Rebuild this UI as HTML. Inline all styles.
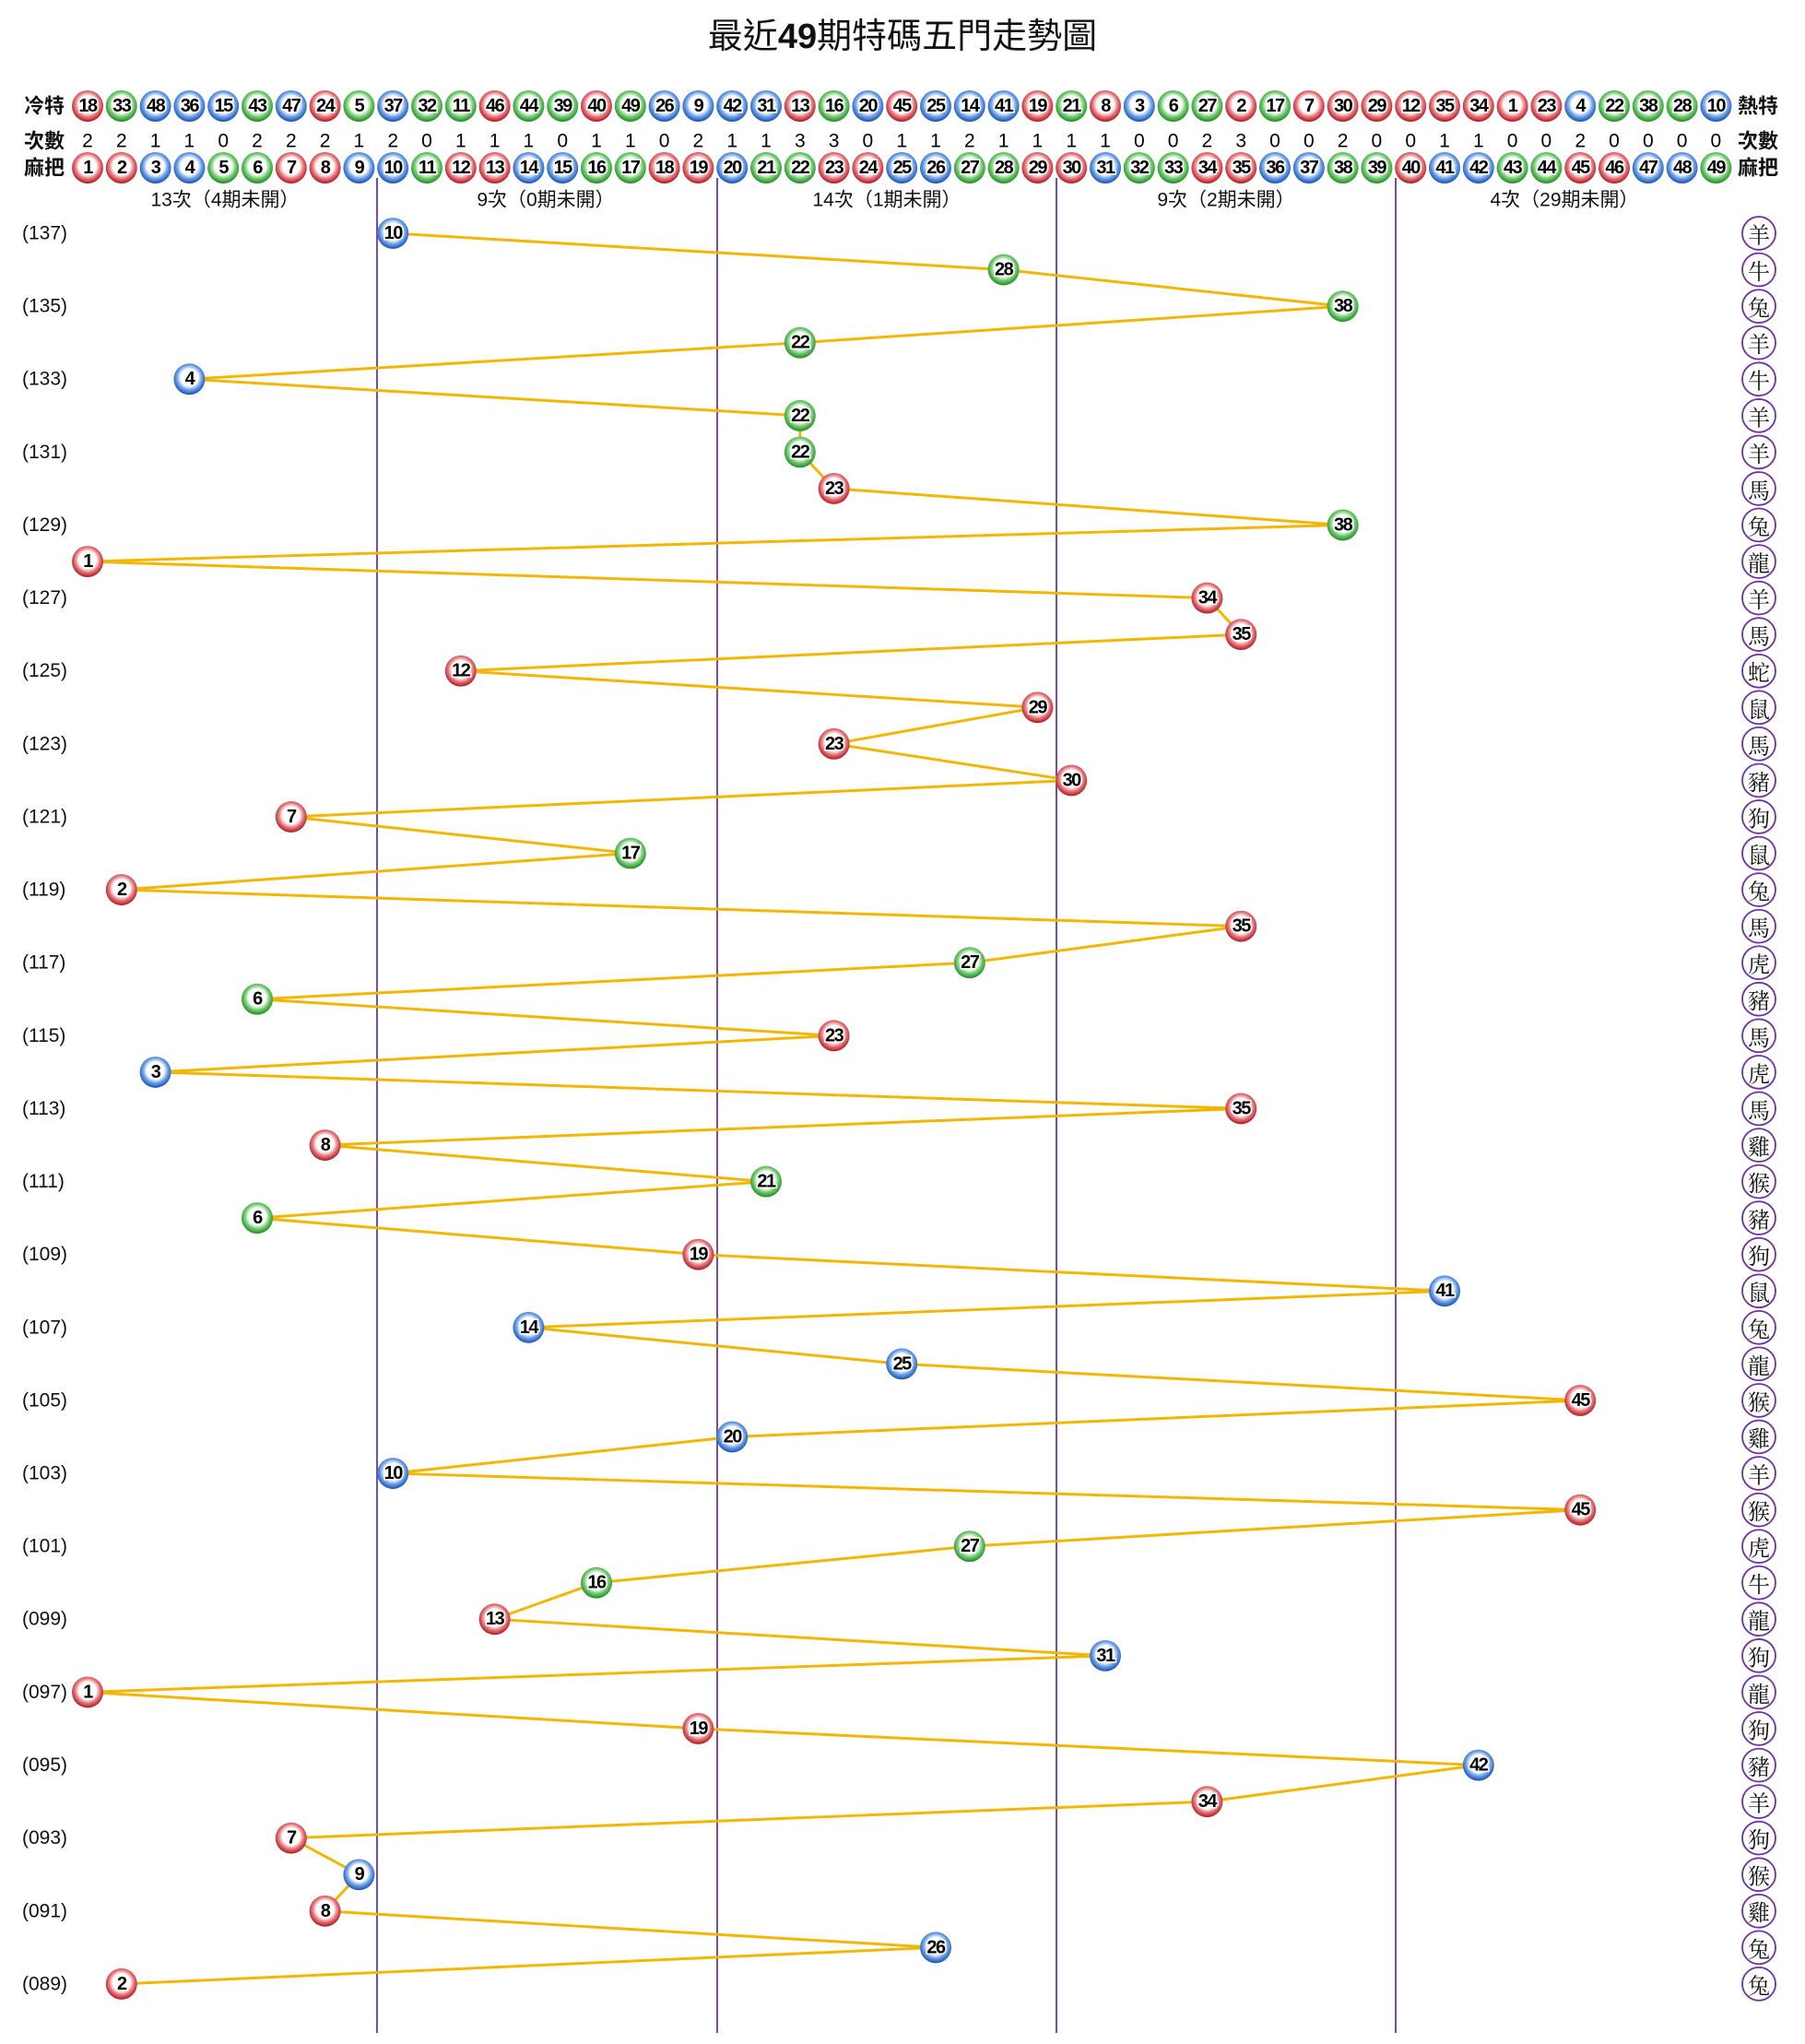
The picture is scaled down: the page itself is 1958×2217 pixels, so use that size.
<!DOCTYPE html>
<html><head><meta charset="utf-8"><style>
html,body{margin:0;padding:0;background:#fff;width:1958px;height:2217px;overflow:hidden}
svg{display:block}
.n{font-family:"Liberation Sans",sans-serif;font-weight:bold;font-size:20px;letter-spacing:-1.5px;text-anchor:middle;dominant-baseline:central;fill:#000;stroke:#fff;stroke-width:3px;paint-order:stroke}
.c{font-family:"Liberation Sans",sans-serif;font-size:21px;text-anchor:middle;dominant-baseline:central;fill:#000}
.l{font-family:"Liberation Sans","Noto Sans CJK TC",sans-serif;font-size:22px;font-weight:bold;dominant-baseline:central;fill:#111}
.s{font-family:"Liberation Sans","Noto Sans CJK TC",sans-serif;font-size:21px;text-anchor:middle;dominant-baseline:central;fill:#111}
.p{font-family:"Liberation Sans",sans-serif;font-size:21px;font-weight:500;dominant-baseline:central;fill:#111}
.z{font-family:"Noto Serif CJK SC","Noto Sans CJK TC",serif;font-size:24px;text-anchor:middle;dominant-baseline:central;fill:#111}
</style></head><body>
<svg width="1958" height="2217" viewBox="0 0 1958 2217" xmlns="http://www.w3.org/2000/svg">
<defs>
<radialGradient id="R" cx="50%" cy="45%" r="55%"><stop offset="0" stop-color="#fff"/><stop offset="0.5" stop-color="#fff"/><stop offset="0.72" stop-color="#e67a80"/><stop offset="1" stop-color="#b0151c"/></radialGradient>
<radialGradient id="B" cx="50%" cy="45%" r="55%"><stop offset="0" stop-color="#fff"/><stop offset="0.5" stop-color="#fff"/><stop offset="0.72" stop-color="#6fa2e8"/><stop offset="1" stop-color="#1550b0"/></radialGradient>
<radialGradient id="G" cx="50%" cy="45%" r="55%"><stop offset="0" stop-color="#fff"/><stop offset="0.5" stop-color="#fff"/><stop offset="0.72" stop-color="#74cc74"/><stop offset="1" stop-color="#1f8a1f"/></radialGradient>
<circle id="b" cx="0" cy="0" r="17"/>
</defs>
<text x="979" y="40" text-anchor="middle" dominant-baseline="central" font-family="Liberation Sans,Noto Sans CJK TC,sans-serif" font-size="38" fill="#111">最近<tspan font-weight="bold">49</tspan>期特碼五門走勢圖</text>

<text class="l" x="26" y="115">冷特</text><text class="l" x="1885" y="115">熱特</text>
<text class="l" x="26" y="153">次數</text><text class="l" x="1885" y="153">次數</text>
<text class="l" x="26" y="182">麻把</text><text class="l" x="1885" y="182">麻把</text>

<g>
<use href="#b" x="95" y="115" fill="url(#R)"/><use href="#b" x="131.8" y="115" fill="url(#G)"/><use href="#b" x="168.6" y="115" fill="url(#B)"/><use href="#b" x="205.4" y="115" fill="url(#B)"/><use href="#b" x="242.2" y="115" fill="url(#B)"/><use href="#b" x="279" y="115" fill="url(#G)"/><use href="#b" x="315.8" y="115" fill="url(#B)"/><use href="#b" x="352.6" y="115" fill="url(#R)"/><use href="#b" x="389.4" y="115" fill="url(#G)"/><use href="#b" x="426.2" y="115" fill="url(#B)"/>
<use href="#b" x="463" y="115" fill="url(#G)"/><use href="#b" x="499.8" y="115" fill="url(#G)"/><use href="#b" x="536.6" y="115" fill="url(#R)"/><use href="#b" x="573.4" y="115" fill="url(#G)"/><use href="#b" x="610.2" y="115" fill="url(#G)"/><use href="#b" x="647" y="115" fill="url(#R)"/><use href="#b" x="683.8" y="115" fill="url(#G)"/><use href="#b" x="720.6" y="115" fill="url(#B)"/><use href="#b" x="757.4" y="115" fill="url(#B)"/><use href="#b" x="794.2" y="115" fill="url(#B)"/>
<use href="#b" x="831" y="115" fill="url(#B)"/><use href="#b" x="867.8" y="115" fill="url(#R)"/><use href="#b" x="904.6" y="115" fill="url(#G)"/><use href="#b" x="941.4" y="115" fill="url(#B)"/><use href="#b" x="978.2" y="115" fill="url(#R)"/><use href="#b" x="1015" y="115" fill="url(#B)"/><use href="#b" x="1051.8" y="115" fill="url(#B)"/><use href="#b" x="1088.6" y="115" fill="url(#B)"/><use href="#b" x="1125.4" y="115" fill="url(#R)"/><use href="#b" x="1162.2" y="115" fill="url(#G)"/>
<use href="#b" x="1199" y="115" fill="url(#R)"/><use href="#b" x="1235.8" y="115" fill="url(#B)"/><use href="#b" x="1272.6" y="115" fill="url(#G)"/><use href="#b" x="1309.4" y="115" fill="url(#G)"/><use href="#b" x="1346.2" y="115" fill="url(#R)"/><use href="#b" x="1383" y="115" fill="url(#G)"/><use href="#b" x="1419.8" y="115" fill="url(#R)"/><use href="#b" x="1456.6" y="115" fill="url(#R)"/><use href="#b" x="1493.4" y="115" fill="url(#R)"/><use href="#b" x="1530.2" y="115" fill="url(#R)"/>
<use href="#b" x="1567" y="115" fill="url(#R)"/><use href="#b" x="1603.8" y="115" fill="url(#R)"/><use href="#b" x="1640.6" y="115" fill="url(#R)"/><use href="#b" x="1677.4" y="115" fill="url(#R)"/><use href="#b" x="1714.2" y="115" fill="url(#B)"/><use href="#b" x="1751" y="115" fill="url(#G)"/><use href="#b" x="1787.8" y="115" fill="url(#G)"/><use href="#b" x="1824.6" y="115" fill="url(#G)"/><use href="#b" x="1861.4" y="115" fill="url(#B)"/>
<text class="n" x="95" y="115">18</text><text class="n" x="131.8" y="115">33</text><text class="n" x="168.6" y="115">48</text><text class="n" x="205.4" y="115">36</text><text class="n" x="242.2" y="115">15</text><text class="n" x="279" y="115">43</text><text class="n" x="315.8" y="115">47</text><text class="n" x="352.6" y="115">24</text><text class="n" x="389.4" y="115">5</text><text class="n" x="426.2" y="115">37</text>
<text class="n" x="463" y="115">32</text><text class="n" x="499.8" y="115">11</text><text class="n" x="536.6" y="115">46</text><text class="n" x="573.4" y="115">44</text><text class="n" x="610.2" y="115">39</text><text class="n" x="647" y="115">40</text><text class="n" x="683.8" y="115">49</text><text class="n" x="720.6" y="115">26</text><text class="n" x="757.4" y="115">9</text><text class="n" x="794.2" y="115">42</text>
<text class="n" x="831" y="115">31</text><text class="n" x="867.8" y="115">13</text><text class="n" x="904.6" y="115">16</text><text class="n" x="941.4" y="115">20</text><text class="n" x="978.2" y="115">45</text><text class="n" x="1015" y="115">25</text><text class="n" x="1051.8" y="115">14</text><text class="n" x="1088.6" y="115">41</text><text class="n" x="1125.4" y="115">19</text><text class="n" x="1162.2" y="115">21</text>
<text class="n" x="1199" y="115">8</text><text class="n" x="1235.8" y="115">3</text><text class="n" x="1272.6" y="115">6</text><text class="n" x="1309.4" y="115">27</text><text class="n" x="1346.2" y="115">2</text><text class="n" x="1383" y="115">17</text><text class="n" x="1419.8" y="115">7</text><text class="n" x="1456.6" y="115">30</text><text class="n" x="1493.4" y="115">29</text><text class="n" x="1530.2" y="115">12</text>
<text class="n" x="1567" y="115">35</text><text class="n" x="1603.8" y="115">34</text><text class="n" x="1640.6" y="115">1</text><text class="n" x="1677.4" y="115">23</text><text class="n" x="1714.2" y="115">4</text><text class="n" x="1751" y="115">22</text><text class="n" x="1787.8" y="115">38</text><text class="n" x="1824.6" y="115">28</text><text class="n" x="1861.4" y="115">10</text>
</g>

<g>
<text class="c" x="95" y="153">2</text><text class="c" x="131.8" y="153">2</text><text class="c" x="168.6" y="153">1</text><text class="c" x="205.4" y="153">1</text><text class="c" x="242.2" y="153">0</text><text class="c" x="279" y="153">2</text><text class="c" x="315.8" y="153">2</text><text class="c" x="352.6" y="153">2</text><text class="c" x="389.4" y="153">1</text><text class="c" x="426.2" y="153">2</text>
<text class="c" x="463" y="153">0</text><text class="c" x="499.8" y="153">1</text><text class="c" x="536.6" y="153">1</text><text class="c" x="573.4" y="153">1</text><text class="c" x="610.2" y="153">0</text><text class="c" x="647" y="153">1</text><text class="c" x="683.8" y="153">1</text><text class="c" x="720.6" y="153">0</text><text class="c" x="757.4" y="153">2</text><text class="c" x="794.2" y="153">1</text>
<text class="c" x="831" y="153">1</text><text class="c" x="867.8" y="153">3</text><text class="c" x="904.6" y="153">3</text><text class="c" x="941.4" y="153">0</text><text class="c" x="978.2" y="153">1</text><text class="c" x="1015" y="153">1</text><text class="c" x="1051.8" y="153">2</text><text class="c" x="1088.6" y="153">1</text><text class="c" x="1125.4" y="153">1</text><text class="c" x="1162.2" y="153">1</text>
<text class="c" x="1199" y="153">1</text><text class="c" x="1235.8" y="153">0</text><text class="c" x="1272.6" y="153">0</text><text class="c" x="1309.4" y="153">2</text><text class="c" x="1346.2" y="153">3</text><text class="c" x="1383" y="153">0</text><text class="c" x="1419.8" y="153">0</text><text class="c" x="1456.6" y="153">2</text><text class="c" x="1493.4" y="153">0</text><text class="c" x="1530.2" y="153">0</text>
<text class="c" x="1567" y="153">1</text><text class="c" x="1603.8" y="153">1</text><text class="c" x="1640.6" y="153">0</text><text class="c" x="1677.4" y="153">0</text><text class="c" x="1714.2" y="153">2</text><text class="c" x="1751" y="153">0</text><text class="c" x="1787.8" y="153">0</text><text class="c" x="1824.6" y="153">0</text><text class="c" x="1861.4" y="153">0</text>
</g>

<g>
<use href="#b" x="95" y="182" fill="url(#R)"/><use href="#b" x="131.8" y="182" fill="url(#R)"/><use href="#b" x="168.6" y="182" fill="url(#B)"/><use href="#b" x="205.4" y="182" fill="url(#B)"/><use href="#b" x="242.2" y="182" fill="url(#G)"/><use href="#b" x="279" y="182" fill="url(#G)"/><use href="#b" x="315.8" y="182" fill="url(#R)"/><use href="#b" x="352.6" y="182" fill="url(#R)"/><use href="#b" x="389.4" y="182" fill="url(#B)"/><use href="#b" x="426.2" y="182" fill="url(#B)"/>
<use href="#b" x="463" y="182" fill="url(#G)"/><use href="#b" x="499.8" y="182" fill="url(#R)"/><use href="#b" x="536.6" y="182" fill="url(#R)"/><use href="#b" x="573.4" y="182" fill="url(#B)"/><use href="#b" x="610.2" y="182" fill="url(#B)"/><use href="#b" x="647" y="182" fill="url(#G)"/><use href="#b" x="683.8" y="182" fill="url(#G)"/><use href="#b" x="720.6" y="182" fill="url(#R)"/><use href="#b" x="757.4" y="182" fill="url(#R)"/><use href="#b" x="794.2" y="182" fill="url(#B)"/>
<use href="#b" x="831" y="182" fill="url(#G)"/><use href="#b" x="867.8" y="182" fill="url(#G)"/><use href="#b" x="904.6" y="182" fill="url(#R)"/><use href="#b" x="941.4" y="182" fill="url(#R)"/><use href="#b" x="978.2" y="182" fill="url(#B)"/><use href="#b" x="1015" y="182" fill="url(#B)"/><use href="#b" x="1051.8" y="182" fill="url(#G)"/><use href="#b" x="1088.6" y="182" fill="url(#G)"/><use href="#b" x="1125.4" y="182" fill="url(#R)"/><use href="#b" x="1162.2" y="182" fill="url(#R)"/>
<use href="#b" x="1199" y="182" fill="url(#B)"/><use href="#b" x="1235.8" y="182" fill="url(#G)"/><use href="#b" x="1272.6" y="182" fill="url(#G)"/><use href="#b" x="1309.4" y="182" fill="url(#R)"/><use href="#b" x="1346.2" y="182" fill="url(#R)"/><use href="#b" x="1383" y="182" fill="url(#B)"/><use href="#b" x="1419.8" y="182" fill="url(#B)"/><use href="#b" x="1456.6" y="182" fill="url(#G)"/><use href="#b" x="1493.4" y="182" fill="url(#G)"/><use href="#b" x="1530.2" y="182" fill="url(#R)"/>
<use href="#b" x="1567" y="182" fill="url(#B)"/><use href="#b" x="1603.8" y="182" fill="url(#B)"/><use href="#b" x="1640.6" y="182" fill="url(#G)"/><use href="#b" x="1677.4" y="182" fill="url(#G)"/><use href="#b" x="1714.2" y="182" fill="url(#R)"/><use href="#b" x="1751" y="182" fill="url(#R)"/><use href="#b" x="1787.8" y="182" fill="url(#B)"/><use href="#b" x="1824.6" y="182" fill="url(#B)"/><use href="#b" x="1861.4" y="182" fill="url(#G)"/>
<text class="n" x="95" y="182">1</text><text class="n" x="131.8" y="182">2</text><text class="n" x="168.6" y="182">3</text><text class="n" x="205.4" y="182">4</text><text class="n" x="242.2" y="182">5</text><text class="n" x="279" y="182">6</text><text class="n" x="315.8" y="182">7</text><text class="n" x="352.6" y="182">8</text><text class="n" x="389.4" y="182">9</text><text class="n" x="426.2" y="182">10</text>
<text class="n" x="463" y="182">11</text><text class="n" x="499.8" y="182">12</text><text class="n" x="536.6" y="182">13</text><text class="n" x="573.4" y="182">14</text><text class="n" x="610.2" y="182">15</text><text class="n" x="647" y="182">16</text><text class="n" x="683.8" y="182">17</text><text class="n" x="720.6" y="182">18</text><text class="n" x="757.4" y="182">19</text><text class="n" x="794.2" y="182">20</text>
<text class="n" x="831" y="182">21</text><text class="n" x="867.8" y="182">22</text><text class="n" x="904.6" y="182">23</text><text class="n" x="941.4" y="182">24</text><text class="n" x="978.2" y="182">25</text><text class="n" x="1015" y="182">26</text><text class="n" x="1051.8" y="182">27</text><text class="n" x="1088.6" y="182">28</text><text class="n" x="1125.4" y="182">29</text><text class="n" x="1162.2" y="182">30</text>
<text class="n" x="1199" y="182">31</text><text class="n" x="1235.8" y="182">32</text><text class="n" x="1272.6" y="182">33</text><text class="n" x="1309.4" y="182">34</text><text class="n" x="1346.2" y="182">35</text><text class="n" x="1383" y="182">36</text><text class="n" x="1419.8" y="182">37</text><text class="n" x="1456.6" y="182">38</text><text class="n" x="1493.4" y="182">39</text><text class="n" x="1530.2" y="182">40</text>
<text class="n" x="1567" y="182">41</text><text class="n" x="1603.8" y="182">42</text><text class="n" x="1640.6" y="182">43</text><text class="n" x="1677.4" y="182">44</text><text class="n" x="1714.2" y="182">45</text><text class="n" x="1751" y="182">46</text><text class="n" x="1787.8" y="182">47</text><text class="n" x="1824.6" y="182">48</text><text class="n" x="1861.4" y="182">49</text>
</g>

<text class="s" x="244" y="217">13次（4期未開）</text>
<text class="s" x="592" y="217">9次（0期未開）</text>
<text class="s" x="962" y="217">14次（1期未開）</text>
<text class="s" x="1330" y="217">9次（2期未開）</text>
<text class="s" x="1697" y="217">4次（29期未開）</text>

<g stroke="#7a4aa8" stroke-width="2">
<line x1="409" y1="193" x2="409" y2="2205"/><line x1="778" y1="193" x2="778" y2="2205"/><line x1="1146" y1="193" x2="1146" y2="2205"/><line x1="1514" y1="193" x2="1514" y2="2205"/>
</g>

<g transform="matrix(1,0,0,0.99572,0,0.087)">
<g>
<text class="p" x="24" y="254">(137)</text><text class="p" x="24" y="333.5">(135)</text><text class="p" x="24" y="412.9">(133)</text><text class="p" x="24" y="492.4">(131)</text><text class="p" x="24" y="571.8">(129)</text><text class="p" x="24" y="651.3">(127)</text><text class="p" x="24" y="730.8">(125)</text><text class="p" x="24" y="810.2">(123)</text><text class="p" x="24" y="889.7">(121)</text><text class="p" x="24" y="969.1">(119)</text>
<text class="p" x="24" y="1048.6">(117)</text><text class="p" x="24" y="1128.1">(115)</text><text class="p" x="24" y="1207.5">(113)</text><text class="p" x="24" y="1287">(111)</text><text class="p" x="24" y="1366.4">(109)</text><text class="p" x="24" y="1445.9">(107)</text><text class="p" x="24" y="1525.4">(105)</text><text class="p" x="24" y="1604.8">(103)</text><text class="p" x="24" y="1684.3">(101)</text><text class="p" x="24" y="1763.7">(099)</text>
<text class="p" x="24" y="1843.2">(097)</text><text class="p" x="24" y="1922.7">(095)</text><text class="p" x="24" y="2002.1">(093)</text><text class="p" x="24" y="2081.6">(091)</text><text class="p" x="24" y="2161">(089)</text>
</g>

<polyline fill="none" stroke="#f2b705" stroke-width="3" stroke-linejoin="round" points="426.2,254 1088.6,293.7 1456.6,333.5 867.8,373.2 205.4,412.9 867.8,452.7 867.8,492.4 904.6,532.1 1456.6,571.8 95,611.6 1309.4,651.3 1346.2,691 499.8,730.8 1125.4,770.5 904.6,810.2 1162.2,850 315.8,889.7 683.8,929.4 131.8,969.1 1346.2,1008.9 1051.8,1048.6 279,1088.3 904.6,1128.1 168.6,1167.8 1346.2,1207.5 352.6,1247.3 831,1287 279,1326.7 757.4,1366.4 1567,1406.2 573.4,1445.9 978.2,1485.6 1714.2,1525.4 794.2,1565.1 426.2,1604.8 1714.2,1644.6 1051.8,1684.3 647,1724 536.6,1763.7 1199,1803.5 95,1843.2 757.4,1882.9 1603.8,1922.7 1309.4,1962.4 315.8,2002.1 389.4,2041.9 352.6,2081.6 1015,2121.3 131.8,2161"/>

<g>
<use href="#b" x="426.2" y="254" fill="url(#B)"/><text class="n" x="426.2" y="254">10</text>
<use href="#b" x="1088.6" y="293.7" fill="url(#G)"/><text class="n" x="1088.6" y="293.7">28</text>
<use href="#b" x="1456.6" y="333.5" fill="url(#G)"/><text class="n" x="1456.6" y="333.5">38</text>
<use href="#b" x="867.8" y="373.2" fill="url(#G)"/><text class="n" x="867.8" y="373.2">22</text>
<use href="#b" x="205.4" y="412.9" fill="url(#B)"/><text class="n" x="205.4" y="412.9">4</text>
<use href="#b" x="867.8" y="452.7" fill="url(#G)"/><text class="n" x="867.8" y="452.7">22</text>
<use href="#b" x="867.8" y="492.4" fill="url(#G)"/><text class="n" x="867.8" y="492.4">22</text>
<use href="#b" x="904.6" y="532.1" fill="url(#R)"/><text class="n" x="904.6" y="532.1">23</text>
<use href="#b" x="1456.6" y="571.8" fill="url(#G)"/><text class="n" x="1456.6" y="571.8">38</text>
<use href="#b" x="95" y="611.6" fill="url(#R)"/><text class="n" x="95" y="611.6">1</text>
<use href="#b" x="1309.4" y="651.3" fill="url(#R)"/><text class="n" x="1309.4" y="651.3">34</text>
<use href="#b" x="1346.2" y="691" fill="url(#R)"/><text class="n" x="1346.2" y="691">35</text>
<use href="#b" x="499.8" y="730.8" fill="url(#R)"/><text class="n" x="499.8" y="730.8">12</text>
<use href="#b" x="1125.4" y="770.5" fill="url(#R)"/><text class="n" x="1125.4" y="770.5">29</text>
<use href="#b" x="904.6" y="810.2" fill="url(#R)"/><text class="n" x="904.6" y="810.2">23</text>
<use href="#b" x="1162.2" y="850" fill="url(#R)"/><text class="n" x="1162.2" y="850">30</text>
<use href="#b" x="315.8" y="889.7" fill="url(#R)"/><text class="n" x="315.8" y="889.7">7</text>
<use href="#b" x="683.8" y="929.4" fill="url(#G)"/><text class="n" x="683.8" y="929.4">17</text>
<use href="#b" x="131.8" y="969.1" fill="url(#R)"/><text class="n" x="131.8" y="969.1">2</text>
<use href="#b" x="1346.2" y="1008.9" fill="url(#R)"/><text class="n" x="1346.2" y="1008.9">35</text>
<use href="#b" x="1051.8" y="1048.6" fill="url(#G)"/><text class="n" x="1051.8" y="1048.6">27</text>
<use href="#b" x="279" y="1088.3" fill="url(#G)"/><text class="n" x="279" y="1088.3">6</text>
<use href="#b" x="904.6" y="1128.1" fill="url(#R)"/><text class="n" x="904.6" y="1128.1">23</text>
<use href="#b" x="168.6" y="1167.8" fill="url(#B)"/><text class="n" x="168.6" y="1167.8">3</text>
<use href="#b" x="1346.2" y="1207.5" fill="url(#R)"/><text class="n" x="1346.2" y="1207.5">35</text>
<use href="#b" x="352.6" y="1247.3" fill="url(#R)"/><text class="n" x="352.6" y="1247.3">8</text>
<use href="#b" x="831" y="1287" fill="url(#G)"/><text class="n" x="831" y="1287">21</text>
<use href="#b" x="279" y="1326.7" fill="url(#G)"/><text class="n" x="279" y="1326.7">6</text>
<use href="#b" x="757.4" y="1366.4" fill="url(#R)"/><text class="n" x="757.4" y="1366.4">19</text>
<use href="#b" x="1567" y="1406.2" fill="url(#B)"/><text class="n" x="1567" y="1406.2">41</text>
<use href="#b" x="573.4" y="1445.9" fill="url(#B)"/><text class="n" x="573.4" y="1445.9">14</text>
<use href="#b" x="978.2" y="1485.6" fill="url(#B)"/><text class="n" x="978.2" y="1485.6">25</text>
<use href="#b" x="1714.2" y="1525.4" fill="url(#R)"/><text class="n" x="1714.2" y="1525.4">45</text>
<use href="#b" x="794.2" y="1565.1" fill="url(#B)"/><text class="n" x="794.2" y="1565.1">20</text>
<use href="#b" x="426.2" y="1604.8" fill="url(#B)"/><text class="n" x="426.2" y="1604.8">10</text>
<use href="#b" x="1714.2" y="1644.6" fill="url(#R)"/><text class="n" x="1714.2" y="1644.6">45</text>
<use href="#b" x="1051.8" y="1684.3" fill="url(#G)"/><text class="n" x="1051.8" y="1684.3">27</text>
<use href="#b" x="647" y="1724" fill="url(#G)"/><text class="n" x="647" y="1724">16</text>
<use href="#b" x="536.6" y="1763.7" fill="url(#R)"/><text class="n" x="536.6" y="1763.7">13</text>
<use href="#b" x="1199" y="1803.5" fill="url(#B)"/><text class="n" x="1199" y="1803.5">31</text>
<use href="#b" x="95" y="1843.2" fill="url(#R)"/><text class="n" x="95" y="1843.2">1</text>
<use href="#b" x="757.4" y="1882.9" fill="url(#R)"/><text class="n" x="757.4" y="1882.9">19</text>
<use href="#b" x="1603.8" y="1922.7" fill="url(#B)"/><text class="n" x="1603.8" y="1922.7">42</text>
<use href="#b" x="1309.4" y="1962.4" fill="url(#R)"/><text class="n" x="1309.4" y="1962.4">34</text>
<use href="#b" x="315.8" y="2002.1" fill="url(#R)"/><text class="n" x="315.8" y="2002.1">7</text>
<use href="#b" x="389.4" y="2041.9" fill="url(#B)"/><text class="n" x="389.4" y="2041.9">9</text>
<use href="#b" x="352.6" y="2081.6" fill="url(#R)"/><text class="n" x="352.6" y="2081.6">8</text>
<use href="#b" x="1015" y="2121.3" fill="url(#B)"/><text class="n" x="1015" y="2121.3">26</text>
<use href="#b" x="131.8" y="2161" fill="url(#R)"/><text class="n" x="131.8" y="2161">2</text>
</g>

<g fill="#fff" stroke="#7030a0" stroke-width="1.8">
<circle cx="1908" cy="254" r="18"/><circle cx="1908" cy="293.7" r="18"/><circle cx="1908" cy="333.5" r="18"/><circle cx="1908" cy="373.2" r="18"/><circle cx="1908" cy="412.9" r="18"/><circle cx="1908" cy="452.7" r="18"/><circle cx="1908" cy="492.4" r="18"/><circle cx="1908" cy="532.1" r="18"/><circle cx="1908" cy="571.8" r="18"/><circle cx="1908" cy="611.6" r="18"/>
<circle cx="1908" cy="651.3" r="18"/><circle cx="1908" cy="691" r="18"/><circle cx="1908" cy="730.8" r="18"/><circle cx="1908" cy="770.5" r="18"/><circle cx="1908" cy="810.2" r="18"/><circle cx="1908" cy="850" r="18"/><circle cx="1908" cy="889.7" r="18"/><circle cx="1908" cy="929.4" r="18"/><circle cx="1908" cy="969.1" r="18"/><circle cx="1908" cy="1008.9" r="18"/>
<circle cx="1908" cy="1048.6" r="18"/><circle cx="1908" cy="1088.3" r="18"/><circle cx="1908" cy="1128.1" r="18"/><circle cx="1908" cy="1167.8" r="18"/><circle cx="1908" cy="1207.5" r="18"/><circle cx="1908" cy="1247.3" r="18"/><circle cx="1908" cy="1287" r="18"/><circle cx="1908" cy="1326.7" r="18"/><circle cx="1908" cy="1366.4" r="18"/><circle cx="1908" cy="1406.2" r="18"/>
<circle cx="1908" cy="1445.9" r="18"/><circle cx="1908" cy="1485.6" r="18"/><circle cx="1908" cy="1525.4" r="18"/><circle cx="1908" cy="1565.1" r="18"/><circle cx="1908" cy="1604.8" r="18"/><circle cx="1908" cy="1644.6" r="18"/><circle cx="1908" cy="1684.3" r="18"/><circle cx="1908" cy="1724" r="18"/><circle cx="1908" cy="1763.7" r="18"/><circle cx="1908" cy="1803.5" r="18"/>
<circle cx="1908" cy="1843.2" r="18"/><circle cx="1908" cy="1882.9" r="18"/><circle cx="1908" cy="1922.7" r="18"/><circle cx="1908" cy="1962.4" r="18"/><circle cx="1908" cy="2002.1" r="18"/><circle cx="1908" cy="2041.9" r="18"/><circle cx="1908" cy="2081.6" r="18"/><circle cx="1908" cy="2121.3" r="18"/><circle cx="1908" cy="2161" r="18"/>
</g>
<g>
<text class="z" x="1908" y="254">羊</text><text class="z" x="1908" y="293.7">牛</text><text class="z" x="1908" y="333.5">兔</text><text class="z" x="1908" y="373.2">羊</text><text class="z" x="1908" y="412.9">牛</text><text class="z" x="1908" y="452.7">羊</text><text class="z" x="1908" y="492.4">羊</text><text class="z" x="1908" y="532.1">馬</text><text class="z" x="1908" y="571.8">兔</text><text class="z" x="1908" y="611.6">龍</text>
<text class="z" x="1908" y="651.3">羊</text><text class="z" x="1908" y="691">馬</text><text class="z" x="1908" y="730.8">蛇</text><text class="z" x="1908" y="770.5">鼠</text><text class="z" x="1908" y="810.2">馬</text><text class="z" x="1908" y="850">豬</text><text class="z" x="1908" y="889.7">狗</text><text class="z" x="1908" y="929.4">鼠</text><text class="z" x="1908" y="969.1">兔</text><text class="z" x="1908" y="1008.9">馬</text>
<text class="z" x="1908" y="1048.6">虎</text><text class="z" x="1908" y="1088.3">豬</text><text class="z" x="1908" y="1128.1">馬</text><text class="z" x="1908" y="1167.8">虎</text><text class="z" x="1908" y="1207.5">馬</text><text class="z" x="1908" y="1247.3">雞</text><text class="z" x="1908" y="1287">猴</text><text class="z" x="1908" y="1326.7">豬</text><text class="z" x="1908" y="1366.4">狗</text><text class="z" x="1908" y="1406.2">鼠</text>
<text class="z" x="1908" y="1445.9">兔</text><text class="z" x="1908" y="1485.6">龍</text><text class="z" x="1908" y="1525.4">猴</text><text class="z" x="1908" y="1565.1">雞</text><text class="z" x="1908" y="1604.8">羊</text><text class="z" x="1908" y="1644.6">猴</text><text class="z" x="1908" y="1684.3">虎</text><text class="z" x="1908" y="1724">牛</text><text class="z" x="1908" y="1763.7">龍</text><text class="z" x="1908" y="1803.5">狗</text>
<text class="z" x="1908" y="1843.2">龍</text><text class="z" x="1908" y="1882.9">狗</text><text class="z" x="1908" y="1922.7">豬</text><text class="z" x="1908" y="1962.4">羊</text><text class="z" x="1908" y="2002.1">狗</text><text class="z" x="1908" y="2041.9">猴</text><text class="z" x="1908" y="2081.6">雞</text><text class="z" x="1908" y="2121.3">兔</text><text class="z" x="1908" y="2161">兔</text>
</g>
</g>
</svg>
</body></html>
